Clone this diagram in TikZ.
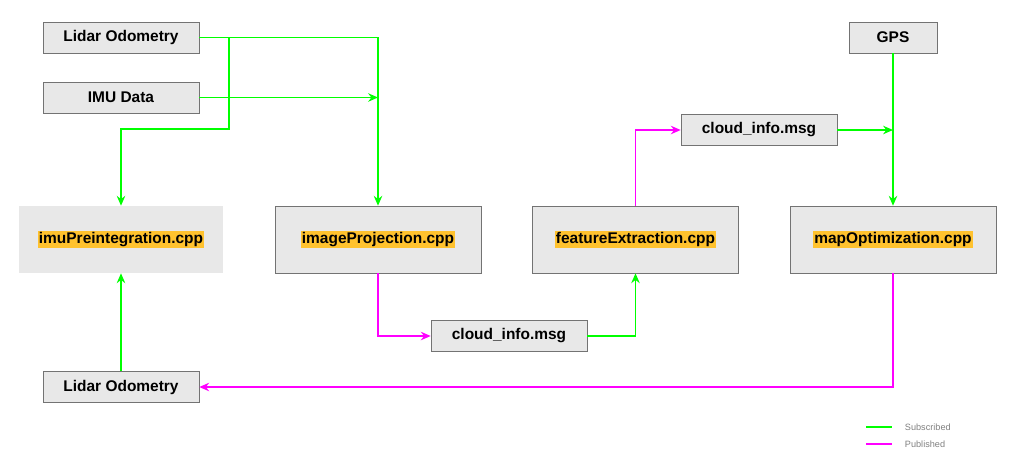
\documentclass[tikz,border=0pt]{standalone}
\usepackage{fontspec}
\setmainfont{Liberation Sans}
\usetikzlibrary{arrows.meta}
\definecolor{boxgray}{HTML}{E8E8E8}
\definecolor{hlorange}{HTML}{FFC22E}
\definecolor{subgreen}{HTML}{00FF00}
\definecolor{pubmag}{HTML}{FF00FF}
\newcommand{\hlname}[1]{{\setlength{\fboxsep}{1pt}\colorbox{hlorange}{#1}}}
\tikzset{
  topic/.style={draw=gray!90!black,fill=boxgray,minimum width=156*0.025cm,minimum height=31*0.025cm,
    font=\fontsize{11}{13}\selectfont\bfseries,inner sep=0pt},
  module/.style={draw=gray!90!black,fill=boxgray,minimum width=206*0.025cm,minimum height=67*0.025cm,
    font=\fontsize{11}{13}\selectfont\bfseries,inner sep=0pt},
  sub/.style={subgreen,line width=1.3pt,-{Stealth[length=7pt,width=6pt]}},
  pub/.style={pubmag,line width=1.3pt,-{Stealth[length=7pt,width=6pt]}}
}
\begin{document}
\begin{tikzpicture}[x=0.025cm,y=-0.025cm]
  \useasboundingbox (0,0) rectangle (1013,462);
  % topics
  \node[topic] (lidar) at (121,37.5) {Lidar Odometry};
  \node[topic] (imu) at (121,97.5) {IMU Data};
  \node[topic,minimum width=88*0.025cm] (gps) at (893,37.5) {GPS};
  \node[topic] (infotop) at (759,130) {cloud\_info.msg};
  \node[topic] (infobot) at (509,336) {cloud\_info.msg};
  \node[topic] (lidarout) at (121,387) {Lidar Odometry};
  % modules
  \node[module,draw=none,minimum width=204*0.025cm] (imupre) at (121,239.5) {\hlname{imuPreintegration.cpp}};
  \node[module] (proj) at (378,239.5) {\hlname{imageProjection.cpp}};
  \node[module] (feat) at (635.5,239.5) {\hlname{featureExtraction.cpp}};
  \node[module] (mapopt) at (893,239.5) {\hlname{mapOptimization.cpp}};
  % subscribed
  \draw[sub] (lidar.east) -| (proj.north);
  \draw[sub] (imu.east) -- (378,97.5);
  \draw[sub] (229,37.5) |- (121,129) -- (imupre.north);
  \draw[sub] (gps.south) -- (mapopt.north);
  \draw[sub] (infotop.east) -- (893,130);
  \draw[sub] (lidarout.north) -- (imupre.south);
  \draw[sub] (infobot.east) -| (feat.south);
  % published
  \draw[pub] (proj.south) |- (infobot.west);
  \draw[pub] (feat.north) |- (infotop.west);
  \draw[pub] (mapopt.south) |- (lidarout.east);
  % legend
  \draw[subgreen,line width=1.3pt] (866,427) -- (892,427);
  \draw[pubmag,line width=1.3pt] (866,444) -- (892,444);
  \node[anchor=west,font=\fontsize{6.5}{8}\selectfont,text=gray] at (900,427) {Subscribed};
  \node[anchor=west,font=\fontsize{6.5}{8}\selectfont,text=gray] at (900,444) {Published};
\end{tikzpicture}
\end{document}
